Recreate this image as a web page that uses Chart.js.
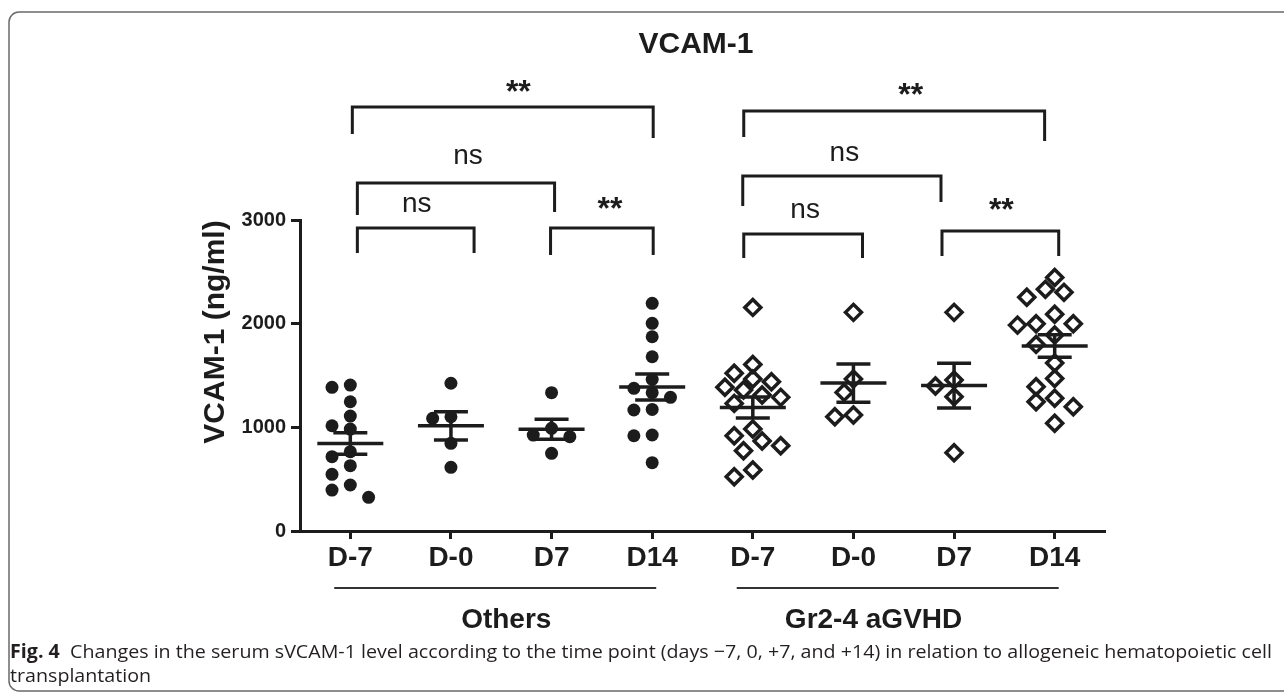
<!DOCTYPE html>
<html>
<head>
<meta charset="utf-8">
<script src="https://cdn.jsdelivr.net/npm/chart.js@4.4.1/dist/chart.umd.min.js"></script>
<style>
  body { margin: 0; background: #fff; }
  #wrap { width: 1284px; height: 693px; position: relative; }
</style>
</head>
<body>
<div id="wrap"><canvas id="myChart"></canvas></div>
<script>
const categories = ['D-7', 'D-0', 'D7', 'D14', 'D-7', 'D-0', 'D7', 'D14'];
const groupNames = ['Others', 'Gr2-4 aGVHD'];
const groupLabelAt = [1.55, 5.2];
const yTicks = [0, 1000, 2000, 3000];

// serum VCAM-1, ng/ml, one value per patient
const othersDm7 = [1408, 1386, 1247, 1109, 1015, 983, 765, 717, 630, 547, 444, 395, 325];
const othersD0 = [1425, 1102, 1087, 846, 614];
const othersD7 = [1334, 990, 925, 910, 749];
const othersD14 = [2196, 2003, 1874, 1681, 1463, 1376, 1334, 1289, 1173, 1167, 926, 919, 659];

const gvhdDm7 = [2157, 1607, 1521, 1466, 1440, 1386, 1360, 1312, 1289, 1231, 983, 919, 868, 823, 774, 588, 524];
const gvhdD0 = [2109, 1466, 1337, 1119, 1102];
const gvhdD7 = [2109, 1456, 1398, 1295, 755];
const gvhdD14 = [2446, 2331, 2302, 2254, 2090, 2000, 2000, 1986, 1890, 1800, 1620, 1472, 1392, 1280, 1247, 1199, 1039];

const othersData = [othersDm7, othersD0, othersD7, othersD14];
const gvhdData = [gvhdDm7, gvhdD0, gvhdD7, gvhdD14];

// significance brackets (x in category units, y in ng/ml)
const brackets = [
    { x1: 0.02, x2: 3.01, y: 4090, end1: 3830, end2: 3791, label: '**', lx: 1.67, ly: 4292 },
    { x1: 0.07, x2: 2.03, y: 3357, end1: 3048, end2: 3077, label: 'ns', lx: 1.17, ly: 3608 },
    { x1: 0.07, x2: 1.23, y: 2923, end1: 2682, end2: 2682, label: 'ns', lx: 0.66, ly: 3145 },
    { x1: 1.99, x2: 3.01, y: 2923, end1: 2662, end2: 2662, label: '**', lx: 2.58, ly: 3164 },
    { x1: 3.91, x2: 6.90, y: 4051, end1: 3801, end2: 3762, label: '**', lx: 5.57, ly: 4264 },
    { x1: 3.90, x2: 5.87, y: 3424, end1: 3135, end2: 3174, label: 'ns', lx: 4.91, ly: 3646 },
    { x1: 3.91, x2: 5.09, y: 2865, end1: 2633, end2: 2633, label: 'ns', lx: 4.52, ly: 3087 },
    { x1: 5.88, x2: 7.04, y: 2894, end1: 2653, end2: 2653, label: '**', lx: 6.47, ly: 3154 }
];

const captionBold = 'Fig. 4';
const captionLine1 = '  Changes in the serum sVCAM-1 level according to the time point (days \u22127, 0, +7, and +14) in relation to allogeneic hematopoietic cell';
const captionLine2 = 'transplantation';

const ink = '#1c1c1c';
const fontFamily = '"Liberation Sans", Arial, sans-serif';
const captionFont = '"Open Sans", sans-serif';

function meanSem(vals) {
    const n = vals.length;
    const mean = vals.reduce((a, b) => a + b, 0) / n;
    const sd = Math.sqrt(vals.reduce((a, b) => a + (b - mean) ** 2, 0) / (n - 1));
    return { mean, sem: sd / Math.sqrt(n) };
}

function centerText(ctx, text, x, cy) {
    const m = ctx.measureText(text);
    ctx.fillText(text, x, cy + (m.actualBoundingBoxAscent - m.actualBoundingBoxDescent) / 2);
}

const errorBars = {
    id: 'errorBars',
    afterDatasetsDraw(chart) {
        const { ctx, scales: { x, y } } = chart;
        ctx.save();
        ctx.strokeStyle = ink;
        ctx.lineWidth = 3.5;
        const seg = (x1, y1, x2, y2) => { ctx.beginPath(); ctx.moveTo(x1, y1); ctx.lineTo(x2, y2); ctx.stroke(); };
        [...othersData, ...gvhdData].forEach((vals, i) => {
            const { mean, sem } = meanSem(vals);
            const cx = x.getPixelForValue(i);
            const my = y.getPixelForValue(mean);
            const hi = y.getPixelForValue(mean + sem);
            const lo = y.getPixelForValue(mean - sem);
            seg(cx - 33, my, cx + 33, my);
            seg(cx, hi, cx, lo);
            seg(cx - 17, hi, cx + 17, hi);
            seg(cx - 17, lo, cx + 17, lo);
        });
        ctx.restore();
    }
};

const decorations = {
    id: 'decorations',
    beforeDraw(chart) {
        const { ctx } = chart;
        ctx.save();
        ctx.fillStyle = '#fff';
        ctx.fillRect(0, 0, chart.width, chart.height);
        ctx.restore();
    },
    afterDraw(chart) {
        const { ctx, chartArea, scales: { x, y } } = chart;
        ctx.save();

        // figure frame
        ctx.strokeStyle = '#6a6a6a';
        ctx.lineWidth = 1.5;
        ctx.beginPath();
        ctx.roundRect(9, 12, 1300, 679, 10);
        ctx.stroke();

        ctx.fillStyle = ink;
        ctx.textAlign = 'center';
        ctx.textBaseline = 'alphabetic';

        // title
        ctx.font = 'bold 30px ' + fontFamily;
        centerText(ctx, 'VCAM-1', 696, 43);

        // y axis title
        ctx.save();
        ctx.translate(224, 332);
        ctx.rotate(-Math.PI / 2);
        ctx.font = 'bold 30px ' + fontFamily;
        ctx.fillText('VCAM-1 (ng/ml)', 0, 0);
        ctx.restore();

        // brackets
        ctx.strokeStyle = ink;
        ctx.lineWidth = 3;
        brackets.forEach(b => {
            const px1 = x.getPixelForValue(b.x1);
            const px2 = x.getPixelForValue(b.x2);
            const py = y.getPixelForValue(b.y);
            ctx.beginPath();
            ctx.moveTo(px1, y.getPixelForValue(b.end1));
            ctx.lineTo(px1, py);
            ctx.lineTo(px2, py);
            ctx.lineTo(px2, y.getPixelForValue(b.end2));
            ctx.stroke();
            ctx.font = b.label === '**' ? 'bold 32px ' + fontFamily : '28px ' + fontFamily;
            centerText(ctx, b.label, x.getPixelForValue(b.lx), y.getPixelForValue(b.ly));
        });

        // group underlines and names
        const lineY = chartArea.bottom + 57;
        ctx.lineWidth = 2;
        ctx.strokeStyle = '#333';
        ctx.font = 'bold 28px ' + fontFamily;
        groupNames.forEach((name, g) => {
            const a = x.getPixelForValue(g * 4 - 0.16);
            const b = x.getPixelForValue(g * 4 + 3.04);
            ctx.beginPath();
            ctx.moveTo(a, lineY);
            ctx.lineTo(b, lineY);
            ctx.stroke();
            centerText(ctx, name, x.getPixelForValue(groupLabelAt[g]), lineY + 30);
        });

        // caption, squeezed to the width of the figure like the condensed original
        ctx.textAlign = 'left';
        ctx.fillStyle = '#231f20';
        ctx.font = 'bold 19px ' + captionFont;
        const wb = ctx.measureText(captionBold).width;
        ctx.font = '19px ' + captionFont;
        const wr = ctx.measureText(captionLine1).width;
        const sx = 1262 / (wb + wr);
        ctx.save();
        ctx.translate(10, 658);
        ctx.scale(sx, 1);
        ctx.font = 'bold 19px ' + captionFont;
        ctx.fillText(captionBold, 0, 0);
        ctx.font = '19px ' + captionFont;
        ctx.fillText(captionLine1, wb, 0);
        ctx.fillText(captionLine2, 0, 24);
        ctx.restore();

        ctx.restore();
    }
};

const ctx = document.getElementById('myChart');

const chart = new Chart(ctx, {
    type: 'scatter',
    data: {
        datasets: [{
            label: groupNames[0],
            data: [],
            pointStyle: 'circle',
            pointRadius: 6.5,
            backgroundColor: ink,
            borderWidth: 0
        },
        {
            label: groupNames[1],
            data: [],
            pointStyle: 'rectRot',
            pointRadius: 8,
            backgroundColor: 'rgba(0,0,0,0)',
            borderColor: ink,
            borderWidth: 3.5
        }]
    },
    options: {
        responsive: true,
        maintainAspectRatio: false,
        animation: false,
        layout: { padding: { top: 220, right: 179, left: 0, bottom: 0 } },
        plugins: {
            legend: { display: false },
            tooltip: { enabled: false }
        },
        scales: {
            x: {
                type: 'linear',
                min: -0.5,
                max: 7.5,
                afterFit: s => { s.height = 162; },
                afterBuildTicks: s => { s.ticks = categories.map((c, i) => ({ value: i })); },
                border: { color: ink, width: 3 },
                grid: { drawOnChartArea: false, tickLength: 8, tickWidth: 3, tickColor: ink },
                ticks: {
                    autoSkip: false,
                    maxRotation: 0,
                    padding: 2,
                    color: ink,
                    font: { family: fontFamily, size: 28, weight: 'bold' },
                    callback: v => categories[v]
                }
            },
            y: {
                min: 0,
                max: 3000,
                afterFit: s => { s.width = 300; },
                afterBuildTicks: s => { s.ticks = yTicks.map(v => ({ value: v })); },
                border: { color: ink, width: 3 },
                grid: { drawOnChartArea: false, tickLength: 9, tickWidth: 3, tickColor: ink },
                ticks: {
                    padding: 5,
                    color: ink,
                    font: { family: fontFamily, size: 20, weight: 'bold' },
                    callback: v => String(v)
                }
            }
        }
    },
    plugins: [errorBars, decorations]
});

// spread each column sideways so the points do not sit on top of each other
function spread(lists, first, step, gap) {
    const xs = chart.scales.x;
    const ys = chart.scales.y;
    const unit = xs.getPixelForValue(1) - xs.getPixelForValue(0);
    const pts = [];
    lists.forEach((vals, g) => {
        const placed = [];
        const order = vals.map((v, i) => i).sort((a, b) => vals[b] - vals[a]);
        order.forEach(i => {
            const py = ys.getPixelForValue(vals[i]);
            for (let k = 0; k < 40; k++) {
                const off = (k % 2 ? -1 : 1) * Math.ceil(k / 2) * step;
                if (placed.every(p => Math.hypot(p.x - off, p.y - py) >= gap)) {
                    placed.push({ x: off, y: py });
                    pts.push({ x: first + g + off / unit, y: vals[i] });
                    break;
                }
            }
        });
    });
    return pts;
}

chart.data.datasets[0].data = spread(othersData, 0, 18.3, 13);
chart.data.datasets[1].data = spread(gvhdData, 4, 9.3, 14);
chart.update();
</script>
</body>
</html>
